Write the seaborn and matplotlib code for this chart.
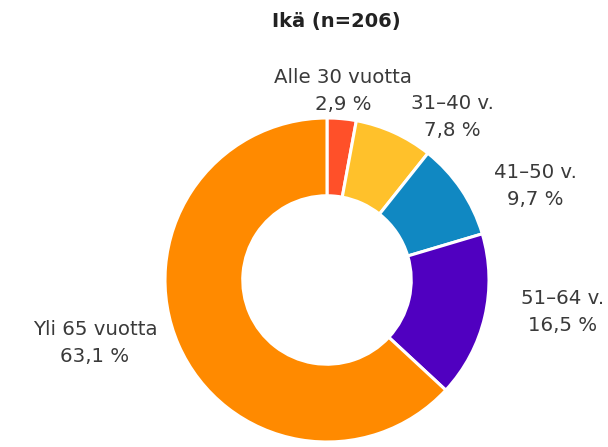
import matplotlib
matplotlib.use("Agg")
import matplotlib.pyplot as plt
import seaborn as sns

categories = ["Alle 30 vuotta", "31–40 v.", "41–50 v.", "51–64 v.", "Yli 65 vuotta"]
values = [2.9, 7.8, 9.7, 16.5, 63.1]
value_labels = ["2,9 %", "7,8 %", "9,7 %", "16,5 %", "63,1 %"]
colors = ["#FF5029", "#FFC12B", "#1088C2", "#5000C0", "#FF8A00"]
title = "Ikä (n=206)"

sns.set_theme(style="white")
plt.rcParams['font.family'] = ['DejaVu Sans']

W, H = 608, 447
fig = plt.figure(figsize=(W / 100, H / 100), dpi=100)

cx, cy, r = 327, 280, 162
ax = fig.add_axes([(cx - r) / W, 1 - (cy + r) / H, 2 * r / W, 2 * r / H])
ax.pie(values, colors=colors, startangle=90, counterclock=False,
       radius=1.0,
       wedgeprops=dict(width=0.48, edgecolor="white", linewidth=2.2))
ax.set_xlim(-1, 1)
ax.set_ylim(-1, 1)
ax.set_aspect("equal")
ax.axis("off")

label_pos = [(343, 91), (452, 117), (535, 186), (563, 312), (95, 343)]
txtcol = "#3a3a3a"
for cat, vl, (px, py) in zip(categories, value_labels, label_pos):
    fig.text(px / W, 1 - py / H, f"{cat}\n{vl}", ha="center", va="center",
             fontsize=14.2, color=txtcol, linespacing=1.55)

fig.text(336 / W, 1 - 22 / H, title, ha="center", va="center",
         fontsize=14, fontweight="bold", color="#222222")

fig.savefig("out.png", dpi=100, facecolor="white")
